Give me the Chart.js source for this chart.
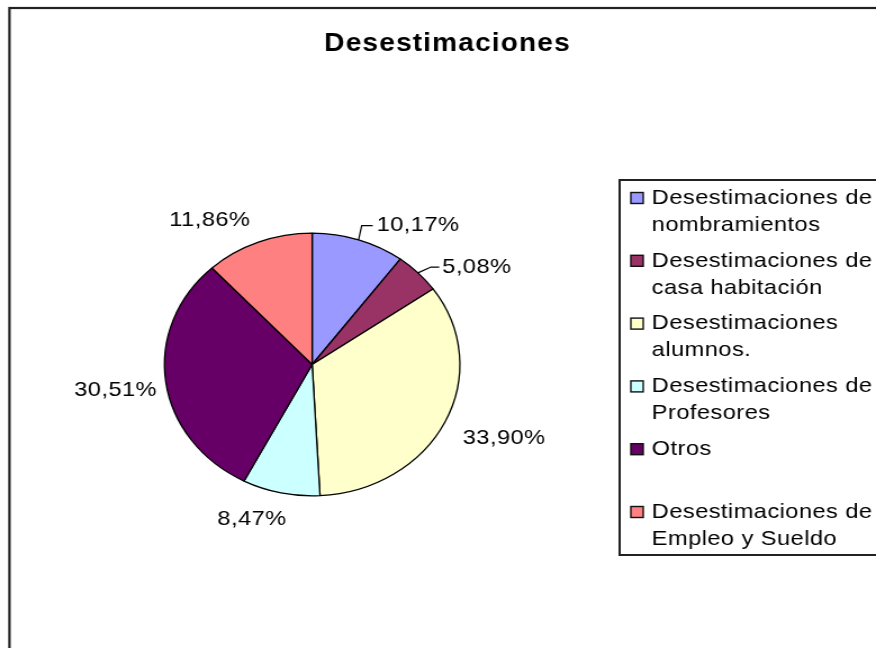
<!DOCTYPE html>
<html>
<head>
<meta charset="utf-8">
<title>Desestimaciones</title>
<script src="https://cdn.jsdelivr.net/npm/chart.js@4/dist/chart.umd.min.js"></script>
<style>
  html, body { margin: 0; padding: 0; background: #fff; overflow: hidden; }
  #marco { width: 876px; height: 648px; overflow: hidden; }
  /* el grafico original de Excel sale estirado a lo ancho */
  #grafico { display: block; transform: scaleX(1.1245); transform-origin: 0 0; }
</style>
</head>
<body>
<div id="marco"><canvas id="grafico" width="779" height="648"></canvas></div>
<script>
// Datos
const categorias = [
  ['Desestimaciones de', 'nombramientos'],
  ['Desestimaciones de', 'casa habitación'],
  ['Desestimaciones', 'alumnos.'],
  ['Desestimaciones de', 'Profesores'],
  ['Otros'],
  ['Desestimaciones de', 'Empleo y Sueldo']
];
const porcentajes = [10.17, 5.08, 33.90, 8.47, 30.51, 11.86];
const colores = ['#9999FF', '#993366', '#FFFFCC', '#CCFFFF', '#660066', '#FF8080'];

// Colocación de las etiquetas respecto al borde de cada porción
const posEtiquetas = [
  { dx: 16.1, dy: -14.2, align: 'left', guia: [[2.8, -14.2], [12.6, -14.2]] },
  { dx: 21.6, dy: -5.8, align: 'left', guia: [[11.5, -5.8], [18.9, -5.8]] },
  { dx: 52.6, dy: 15.8 },
  { dx: -25.7, dy: 26.5 },
  { dx: -44.6, dy: 8.1 },
  { dx: -43.2, dy: -21.6 }
];

const FUENTE = '"Liberation Sans", Arial, sans-serif';

function formatoPct(v) {
  return v.toFixed(2).replace('.', ',') + '%';
}

const decoracion = {
  id: 'decoracion',
  beforeDraw(chart) {
    const ctx = chart.ctx;
    ctx.save();
    ctx.fillStyle = '#fff';
    ctx.fillRect(0, 0, chart.width, chart.height);
    // marco del area del grafico
    ctx.strokeStyle = '#222';
    ctx.lineWidth = 2.2;
    ctx.strokeRect(8.4, 8, 1000, 1000);
    ctx.restore();
  },
  afterDatasetsDraw(chart) {
    const ctx = chart.ctx;
    const arcos = chart.getDatasetMeta(0).data;

    ctx.save();
    ctx.fillStyle = '#000';
    ctx.strokeStyle = '#000';
    ctx.font = '21px ' + FUENTE;
    ctx.letterSpacing = '0.4px';
    ctx.textBaseline = 'middle';

    // etiquetas de porcentaje
    arcos.forEach((arco, i) => {
      const p = arco.getProps(['x', 'y', 'startAngle', 'endAngle', 'outerRadius'], true);
      const medio = (p.startAngle + p.endAngle) / 2;
      const bx = p.x + p.outerRadius * Math.cos(medio);
      const by = p.y + p.outerRadius * Math.sin(medio);
      const pos = posEtiquetas[i];
      if (pos.guia) {
        ctx.lineWidth = 1.2;
        ctx.beginPath();
        ctx.moveTo(bx, by);
        pos.guia.forEach(([gx, gy]) => ctx.lineTo(bx + gx, by + gy));
        ctx.stroke();
      }
      ctx.textAlign = pos.align || 'center';
      ctx.fillText(formatoPct(porcentajes[i]), bx + pos.dx, by + pos.dy);
    });

    // leyenda
    const lx = 551, ly = 180;
    ctx.lineWidth = 2;
    ctx.strokeStyle = '#222';
    ctx.strokeRect(lx, ly, 400, 375);
    ctx.textAlign = 'left';
    categorias.forEach((lineas, i) => {
      const y = 198 + i * 62.8;
      ctx.fillStyle = colores[i];
      ctx.fillRect(lx + 10, y - 5.5, 11, 11);
      ctx.lineWidth = 1.4;
      ctx.strokeStyle = '#111';
      ctx.strokeRect(lx + 10, y - 5.5, 11, 11);
      ctx.fillStyle = '#000';
      lineas.forEach((t, k) => ctx.fillText(t, lx + 28.6, y + k * 27));
    });

    // titulo
    ctx.font = 'bold 25px ' + FUENTE;
    ctx.letterSpacing = '1px';
    ctx.textAlign = 'center';
    ctx.fillText('Desestimaciones', 398, 44);
    ctx.restore();
  }
};

document.addEventListener('DOMContentLoaded', function() {
  const cx = 277.6, cy = 364.5, r = 132;
  const lienzo = document.getElementById('grafico');

  new Chart(lienzo.getContext('2d'), {
    type: 'pie',
    data: {
      labels: categorias,
      datasets: [{
        data: porcentajes,
        backgroundColor: colores,
        borderColor: '#000',
        borderWidth: 1.3
      }]
    },
    options: {
      responsive: false,
      animation: false,
      events: [],
      layout: {
        padding: {
          left: cx - r,
          right: lienzo.width - (cx + r),
          top: cy - r,
          bottom: lienzo.height - (cy + r)
        }
      },
      plugins: {
        legend: { display: false },
        title: { display: false },
        tooltip: { enabled: false }
      }
    },
    plugins: [decoracion]
  });
});
</script>
</body>
</html>
